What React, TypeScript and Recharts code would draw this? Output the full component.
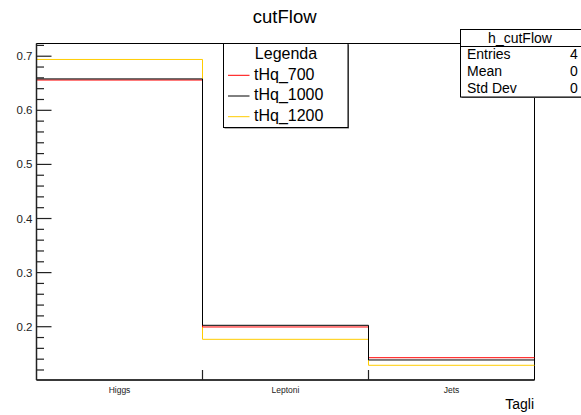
import { ComposedChart, Line, XAxis, YAxis, ReferenceArea } from 'recharts';

// bins of the cutFlow histogram
const categories = ['Higgs', 'Leptoni', 'Jets'];
const binEdges = [0, 1, 2, 3];

// bin contents per sample
const tHq700 = [0.656, 0.1995, 0.1427];
const tHq1000 = [0.658, 0.2026, 0.1385];
const tHq1200 = [0.694, 0.1767, 0.1287];

// y axis ticks (major ones get a label)
const yTicks = [
  0.12, 0.14, 0.16, 0.18, 0.2, 0.22, 0.24, 0.26, 0.28, 0.3, 0.32, 0.34, 0.36, 0.38, 0.4,
  0.42, 0.44, 0.46, 0.48, 0.5, 0.52, 0.54, 0.56, 0.58, 0.6, 0.62, 0.64, 0.66, 0.68, 0.7, 0.72,
];
const xTicks = [0, 0.5, 1, 1.5, 2, 2.5, 3];

const statsRows = [
  ['Entries', '4'],
  ['Mean', '0'],
  ['Std Dev', '0'],
];

const series = [
  { key: 'tHq_700', values: tHq700, color: '#ff0000' },
  { key: 'tHq_1000', values: tHq1000, color: '#000000' },
  { key: 'tHq_1200', values: tHq1200, color: '#ffcc00' },
];
// yellow sits under the others in the plot
const drawOrder = [series[2], series[0], series[1]];

const Y_MIN = 0.1015;
const Y_MAX = 0.7235;
const PLOT_LEFT = 36.5;
const PLOT_BOTTOM = 380;
const FONT = '"Liberation Sans", Arial, Helvetica, sans-serif';

// step line needs the last bin repeated at the right edge
const chartData = binEdges.map((edge) => {
  const row: Record<string, number> = { edge };
  series.forEach((s) => {
    row[s.key] = s.values[Math.min(edge, s.values.length - 1)];
  });
  return row;
});

function YTick(props: any) {
  const { y, payload } = props;
  const v = payload.value as number;
  const major = Math.abs(v * 10 - Math.round(v * 10)) < 1e-6;
  return (
    <g>
      <line x1={PLOT_LEFT} x2={PLOT_LEFT + (major ? 15 : 7.5)} y1={y} y2={y} stroke="#222" strokeWidth={1.2} />
      {major && (
        <text x={32.5} y={y} textAnchor="end" dominantBaseline="central" fontSize={11.5} fill="#222" fontFamily={FONT}>
          {v.toFixed(1)}
        </text>
      )}
    </g>
  );
}

function XTick(props: any) {
  const { x, payload } = props;
  const v = payload.value as number;
  if (Number.isInteger(v)) {
    if (v === 0 || v === 3) return <g />;
    return <line x1={x} x2={x} y1={PLOT_BOTTOM} y2={PLOT_BOTTOM - 10} stroke="#222" strokeWidth={1.2} />;
  }
  return (
    <text x={x} y={390} textAnchor="middle" dominantBaseline="central" fontSize={8.5} fill="#222" fontFamily={FONT}>
      {categories[Math.floor(v)]}
    </text>
  );
}

export default function App() {
  return (
    <div style={{ position: 'absolute', left: 0, top: 0, width: 581, height: 415, background: '#fff', fontFamily: FONT }}>
      <ComposedChart width={581} height={415} data={chartData} margin={{ top: 43.5, right: 46.5, bottom: 0, left: 0 }}>
        <XAxis
          dataKey="edge"
          type="number"
          domain={[0, 3]}
          ticks={xTicks}
          interval={0}
          height={35}
          tickLine={false}
          axisLine={{ stroke: '#222', strokeWidth: 1.5 }}
          tick={<XTick />}
        />
        <YAxis
          type="number"
          domain={[Y_MIN, Y_MAX]}
          ticks={yTicks}
          interval={0}
          allowDataOverflow
          width={36.5}
          tickLine={false}
          axisLine={{ stroke: '#222', strokeWidth: 1.5 }}
          tick={<YTick />}
        />
        <ReferenceArea x1={0} x2={3} y1={Y_MIN} y2={Y_MAX} fill="none" stroke="#000" strokeWidth={1} ifOverflow="visible" />
        {drawOrder.map((s) => (
          <Line
            key={s.key}
            dataKey={s.key}
            type="stepAfter"
            stroke={s.color}
            strokeWidth={1}
            dot={false}
            activeDot={false}
            isAnimationActive={false}
          />
        ))}
      </ComposedChart>

      <svg width={581} height={415} style={{ position: 'absolute', left: 0, top: 0, pointerEvents: 'none' }} fontFamily={FONT}>
        <text x={284.7} y={22.7} textAnchor="middle" fontSize={18.5} fill="#000">cutFlow</text>
        <text x={534} y={409} textAnchor="end" fontSize={14} fill="#000">Tagli</text>

        {/* legend */}
        <rect x={224.5} y={44.5} width={124.5} height={84} fill="#666" />
        <rect x={223.5} y={43.5} width={124.5} height={84} fill="#fff" stroke="#000" strokeWidth={1} />
        <text x={286} y={59} textAnchor="middle" fontSize={16} fill="#000">Legenda</text>
        {series.map((s, i) => {
          const cy = 75.3 + i * 20.7;
          return (
            <g key={s.key}>
              <line x1={228} x2={249.5} y1={cy} y2={cy} stroke={s.color} strokeWidth={1} />
              <text x={254} y={cy + 4.2} fontSize={16} fill="#000">{s.key}</text>
            </g>
          );
        })}

        {/* stats box */}
        <rect x={461.5} y={30.5} width={125} height={67.5} fill="#666" />
        <rect x={460.5} y={29.5} width={125} height={67.5} fill="#fff" stroke="#000" strokeWidth={1} />
        <line x1={460.5} x2={581} y1={46.5} y2={46.5} stroke="#000" strokeWidth={1} />
        <text x={520} y={42.7} textAnchor="middle" fontSize={14} fill="#000">h_cutFlow</text>
        {statsRows.map((r, i) => (
          <g key={r[0]}>
            <text x={467} y={59.3 + i * 17} fontSize={14} fill="#000">{r[0]}</text>
            <text x={577.8} y={59.3 + i * 17} textAnchor="end" fontSize={14} fill="#000">{r[1]}</text>
          </g>
        ))}
      </svg>
    </div>
  );
}
